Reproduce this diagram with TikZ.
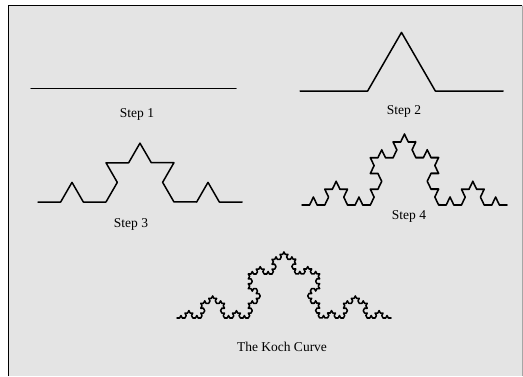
\documentclass[tikz,border=0pt]{standalone}
\usepackage{fontspec}
\setmainfont{Liberation Serif}
\usepackage{xcolor}
\usetikzlibrary{decorations.fractals}

\definecolor{paper}{HTML}{E4E4E4}

\begin{document}
\begin{tikzpicture}[
    x=1pt, y=1pt,
    curve/.style={line width=1.5pt, line join=round, line cap=round},
    koch/.style={curve, decoration=Koch snowflake},
    lbl/.style={font=\fontsize{13.5}{16}\selectfont, inner sep=0pt},
  ]

  % Page: white margin at top and left, grey sheet with a black edge
  \useasboundingbox (0,0) rectangle (523,376);
  \fill[paper] (8,0) rectangle (523,371);
  \draw[line width=1.3pt] (8.6,0) |- (522,370.6);
  \draw[gray!70, line width=0.6pt] (522.4,0) -- (522.4,370);

  % Baseline end points of each stage (absolute positioning)
  \def\yOne{287.5}   % Step 1
  \def\yTwo{285}     % Step 2
  \def\yThree{174}   % Step 3
  \def\yFour{171}    % Step 4
  \def\yKoch{58}     % final curve

  % ── Step 1: plain segment ──────────────────────────────────────────
  \coordinate (oneL) at (31,\yOne);
  \coordinate (oneR) at (236,\yOne);
  \draw[curve] (oneL) -- (oneR);
  \node[lbl] (oneLbl) at (137,262) {Step 1};

  % ── Step 2: one bump ───────────────────────────────────────────────
  \coordinate (twoL) at (300,\yTwo);
  \coordinate (twoR) at (503,\yTwo);
  \draw[koch] decorate{ (twoL) -- (twoR) };
  \node[lbl] (twoLbl) at (404,265) {Step 2};

  % ── Step 3: two levels ─────────────────────────────────────────────
  \coordinate (threeL) at (38,\yThree);
  \coordinate (threeR) at (242,\yThree);
  \draw[koch] decorate{ decorate{ (threeL) -- (threeR) }};
  \node[lbl] (threeLbl) at (131,152) {Step 3};

  % ── Step 4: three levels (printed a little taller) ─────────────────
  \begin{scope}[transform canvas={shift={(0,\yFour)}, yscale=1.2}]
    \coordinate (fourL) at (302,0);
    \coordinate (fourR) at (507,0);
    \draw[koch] decorate{ decorate{ decorate{ (fourL) -- (fourR) }}};
  \end{scope}
  \node[lbl] (fourLbl) at (409,160) {Step 4};

  % ── The Koch curve: four levels ────────────────────────────────────
  \begin{scope}[transform canvas={shift={(0,\yKoch)}, yscale=1.07}]
    \coordinate (kochL) at (177,0);
    \coordinate (kochR) at (391,0);
    \draw[koch] decorate{ decorate{ decorate{ decorate{ (kochL) -- (kochR) }}}};
  \end{scope}
  \node[lbl] (kochLbl) at (282,29) {The Koch Curve};

\end{tikzpicture}
\end{document}
